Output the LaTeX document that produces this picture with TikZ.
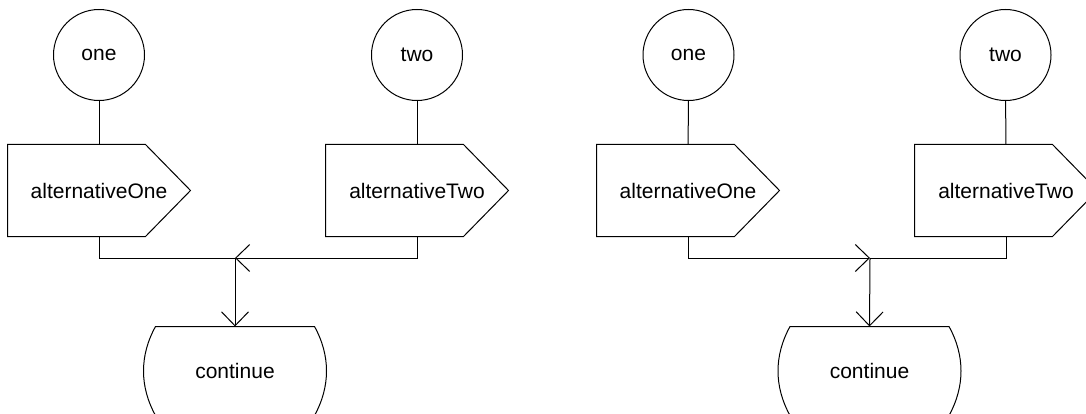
\documentclass[tikz,border=0pt]{standalone}
\usepackage{fontspec}
\setmainfont{Liberation Sans}
\usetikzlibrary{arrows.meta}
\tikzset{
  state/.style={circle,draw,minimum size=91pt,inner sep=0pt},
  alt/.style={minimum width=182pt,minimum height=91pt,inner sep=0pt},
  cont/.style={minimum width=158pt,minimum height=88pt,inner sep=0pt},
  barb/.style={-{Straight Barb[length=14pt,width=27pt]}}
}
\begin{document}
\begin{tikzpicture}[x=1pt,y=-1pt,line width=1pt,font=\fontsize{21}{25}\selectfont]
  \clip (0,0) rectangle (1086,414);
  \node[state] (oneL) at (99,55) {one};
  \node[alt] (altOneL) at (99,190.5) {alternativeOne};
  \node[state] (twoL) at (417,55) {two};
  \node[alt] (altTwoL) at (417,190.5) {alternativeTwo};
  \coordinate (joinL) at (235,258);
  \node[cont] (contL) at (235,371) {continue};

  \node[state] (oneR) at (688.5,55) {one};
  \node[alt] (altOneR) at (688,190.5) {alternativeOne};
  \node[state] (twoR) at (1005.5,55) {two};
  \node[alt] (altTwoR) at (1006,190.5) {alternativeTwo};
  \coordinate (joinR) at (870,258);
  \node[cont] (contR) at (869.5,371) {continue};

  \foreach \n in {altOneL,altTwoL,altOneR,altTwoR}
    \draw (\n.north west) -- ([xshift=-45pt]\n.north east) -- (\n.east)
      -- ([xshift=-45pt]\n.south east) -- (\n.south west) -- cycle;
  \foreach \n in {contL,contR}
    \draw (\n.south west) .. controls +(-16,-29) and +(-16,29) .. (\n.north west)
      -- (\n.north east) .. controls +(16,29) and +(16,-29) .. (\n.south east);

  \draw (oneL) -- (altOneL);
  \draw (twoL) -- (altTwoL);
  \draw (altOneL.south) |- (joinL);
  \draw[barb] (altTwoL.south) |- (joinL);
  \draw[barb] (joinL) -- (contL.north);

  \draw (oneR) -- (altOneR);
  \draw (twoR) -- (altTwoR);
  \draw[barb] (altOneR.south) |- (joinR);
  \draw (altTwoR.south) |- (joinR);
  \draw[barb] (joinR) -- (contR.north);
\end{tikzpicture}
\end{document}
